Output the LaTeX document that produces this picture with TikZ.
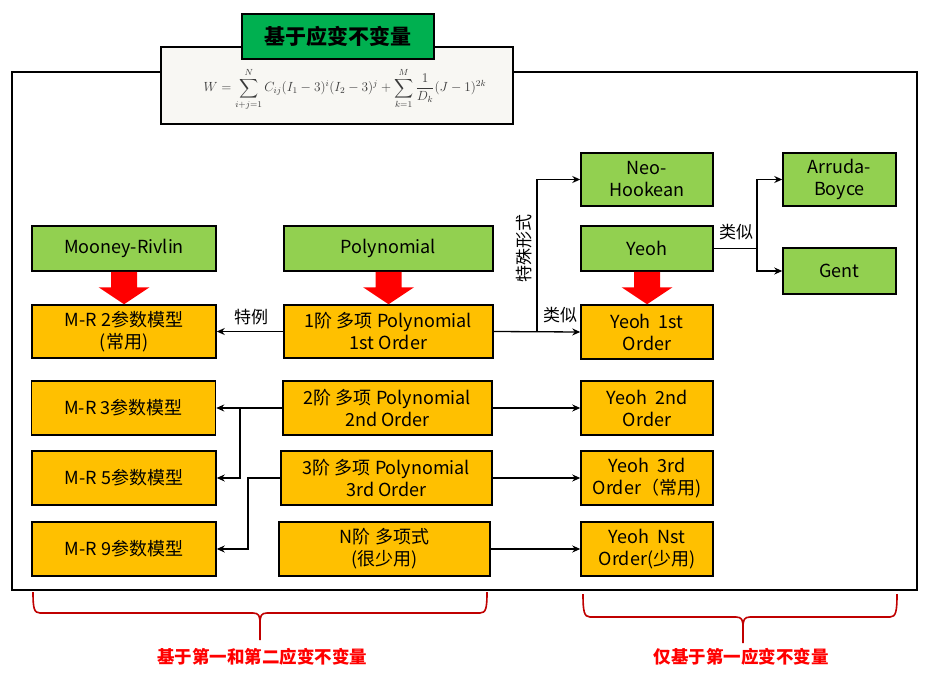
\documentclass[tikz,border=0pt]{standalone}
\usepackage{amsmath}
\usepackage{fontspec}
\setmainfont{Noto Sans CJK SC}
\usetikzlibrary{arrows.meta,calc}
\definecolor{boxgreen}{HTML}{92D050}
\definecolor{boxorange}{HTML}{FFC000}
\definecolor{titlegreen}{HTML}{00B050}
\definecolor{blockred}{HTML}{FF0000}
\definecolor{bracered}{HTML}{C00000}
\definecolor{formulabg}{HTML}{F8F7F3}
\definecolor{formulatext}{HTML}{3A3A3A}
\newcommand\blockarrow[2]{%
  \fill[blockred] let \p1=(#1.south), \p2=(#2.north) in
    (\x1-13,\y1) -- (\x1+13,\y1) -- (\x1+13,\y2+17) -- (\x1+25.5,\y2+17)
    -- (\x1,\y2) -- (\x1-25.5,\y2+17) -- (\x1-13,\y2+17) -- cycle;}
\begin{document}
\begin{tikzpicture}[x=1pt,y=-1pt,
  box/.style={draw=black, line width=1.5pt, align=center, inner sep=1pt,
    font=\fontsize{18}{22}\selectfont, text=black},
  gbox/.style={box, fill=boxgreen},
  obox/.style={box, fill=boxorange},
  conn/.style={line width=1.3pt, draw=black},
  arr/.style={conn, -{Stealth[length=8pt,width=7pt]}},
  lbl/.style={font=\fontsize{17}{20}\selectfont, inner sep=0pt},
  bracepath/.style={draw=bracered, line width=1.6pt},
  bracelbl/.style={font=\fontsize{17.5}{20}\selectfont\bfseries, text=blockred, inner sep=0pt}]
\useasboundingbox (0,0) rectangle (937,679);
\fill[white] (0,0) rectangle (937,679);
% outer frame
\draw[line width=1.8pt] (12,72) rectangle (917,590);
% formula box
\node[draw=black, line width=1.6pt, fill=formulabg, minimum width=352pt, minimum height=77pt, inner sep=0pt]
  (formula) at (337,85.5) {};
\node[text=formulatext, inner sep=0pt, font=\fontsize{12}{14}\selectfont] (eq) at (345,89)
  {\scalebox{1.107}{$\displaystyle W=\sum_{i+j=1}^{N}C_{ij}(I_1-3)^i(I_2-3)^j+\sum_{k=1}^{M}\frac{1}{D_k}(J-1)^{2k}$}};
% title
\node[draw=black, line width=1.6pt, fill=titlegreen, minimum width=192pt, minimum height=45pt, inner sep=0pt,
  font=\fontsize{21}{24}\selectfont\bfseries] (title) at (338,36.5) {基于应变不变量};
% green nodes
\node[gbox, minimum width=184pt, minimum height=45pt] (mr) at (124,248.5) {Mooney-Rivlin};
\node[gbox, minimum width=209pt, minimum height=45pt] (poly) at (388.5,248.5) {Polynomial};
\node[gbox, minimum width=132pt, minimum height=53pt] (neo) at (647,179.5) {Neo-\\Hookean};
\node[gbox, minimum width=132pt, minimum height=45pt] (yeoh) at (647,248.5) {Yeoh};
\node[gbox, minimum width=113pt, minimum height=53pt] (arruda) at (839.5,179.5) {Arruda-\\Boyce};
\node[gbox, minimum width=113pt, minimum height=46pt] (gent) at (839.5,271) {Gent};
% orange nodes
\node[obox, minimum width=184pt, minimum height=53pt] (mr2) at (124,331.5) {M-R 2参数模型\\(常用)};
\node[obox, minimum width=209pt, minimum height=53pt] (p1) at (388.5,331.5) {1阶 多项 Polynomial\\1st Order};
\node[obox, minimum width=132pt, minimum height=54pt] (y1) at (647,332) {Yeoh\ \ 1st\\Order};
\node[obox, minimum width=184pt, minimum height=54pt] (mr3) at (123.5,408) {M-R 3参数模型};
\node[obox, minimum width=184pt, minimum height=54pt] (mr5) at (124,478) {M-R 5参数模型};
\node[obox, minimum width=184pt, minimum height=54pt] (mr9) at (124,549) {M-R 9参数模型};
\node[obox, minimum width=209pt, minimum height=54pt] (p2) at (387.5,408) {2阶 多项 Polynomial\\2nd Order};
\node[obox, minimum width=211pt, minimum height=54pt] (p3) at (386.5,478) {3阶 多项 Polynomial\\3rd Order};
\node[obox, minimum width=211pt, minimum height=54pt] (pN) at (384.5,549) {N阶 多项式\\(很少用)};
\node[obox, minimum width=132pt, minimum height=54pt] (y2) at (647,408) {Yeoh\ \ 2nd\\Order};
\node[obox, minimum width=132pt, minimum height=54pt] (y3) at (647,478) {Yeoh\ \ 3rd\\Order（常用)};
\node[obox, minimum width=132pt, minimum height=54pt] (yN) at (647,549) {Yeoh\ \ Nst\\Order(少用)};
% block arrows
\blockarrow{mr}{mr2}
\blockarrow{poly}{p1}
\blockarrow{yeoh}{y1}
% connectors
\draw[arr] (p1.west) -- (mr2.east);
\node[lbl] (l1) at (251,317) {特例};
\draw[arr] (p1.east) -- (y1.west);
\coordinate (b1) at (537,331.5);
\draw[arr] (b1) |- (neo.west);
\node[lbl, rotate=90] (l2) at (524,248) {特殊形式};
\node[lbl] (l3) at (560,315) {类似};
\coordinate (b2) at (757,248.5);
\draw[conn] (yeoh.east) -- (b2);
\draw[arr] (b2) |- (arruda.west);
\draw[arr] (b2) |- (gent.west);
\node[lbl] (l4) at (736,232) {类似};
\draw[arr] (p2.west) -- (mr3.east);
\coordinate (b3) at (240,408);
\draw[arr] (b3) |- (mr5.east);
\coordinate (b4) at (248,478);
\draw[arr] (p3.west) -- (b4) |- (mr9.east);
\draw[arr] (p2.east) -- (y2.west);
\draw[arr] (p3.east) -- (y3.west);
\draw[arr] (pN.east) -- (yN.west);
% braces
\draw[bracepath] (33,592) .. controls (33,608) and (34,613) .. (40,613) -- (253,613)
  .. controls (259,613) and (260,616) .. (260,624) -- (260,640);
\draw[bracepath] (260,624) .. controls (260,616) and (261,613) .. (267,613) -- (480,613)
  .. controls (486,613) and (487,608) .. (487,592);
\draw[bracepath] (583,594) .. controls (583,611) and (584,617) .. (590,617) -- (736,617)
  .. controls (742,617) and (743,620) .. (743,628) -- (743,643);
\draw[bracepath] (743,628) .. controls (743,620) and (744,617) .. (750,617) -- (890,617)
  .. controls (896,617) and (897,611) .. (897,594);
\node[bracelbl] (t1) at (262,657) {基于第一和第二应变不变量};
\node[bracelbl] (t2) at (741,657) {仅基于第一应变不变量};
\end{tikzpicture}
\end{document}
